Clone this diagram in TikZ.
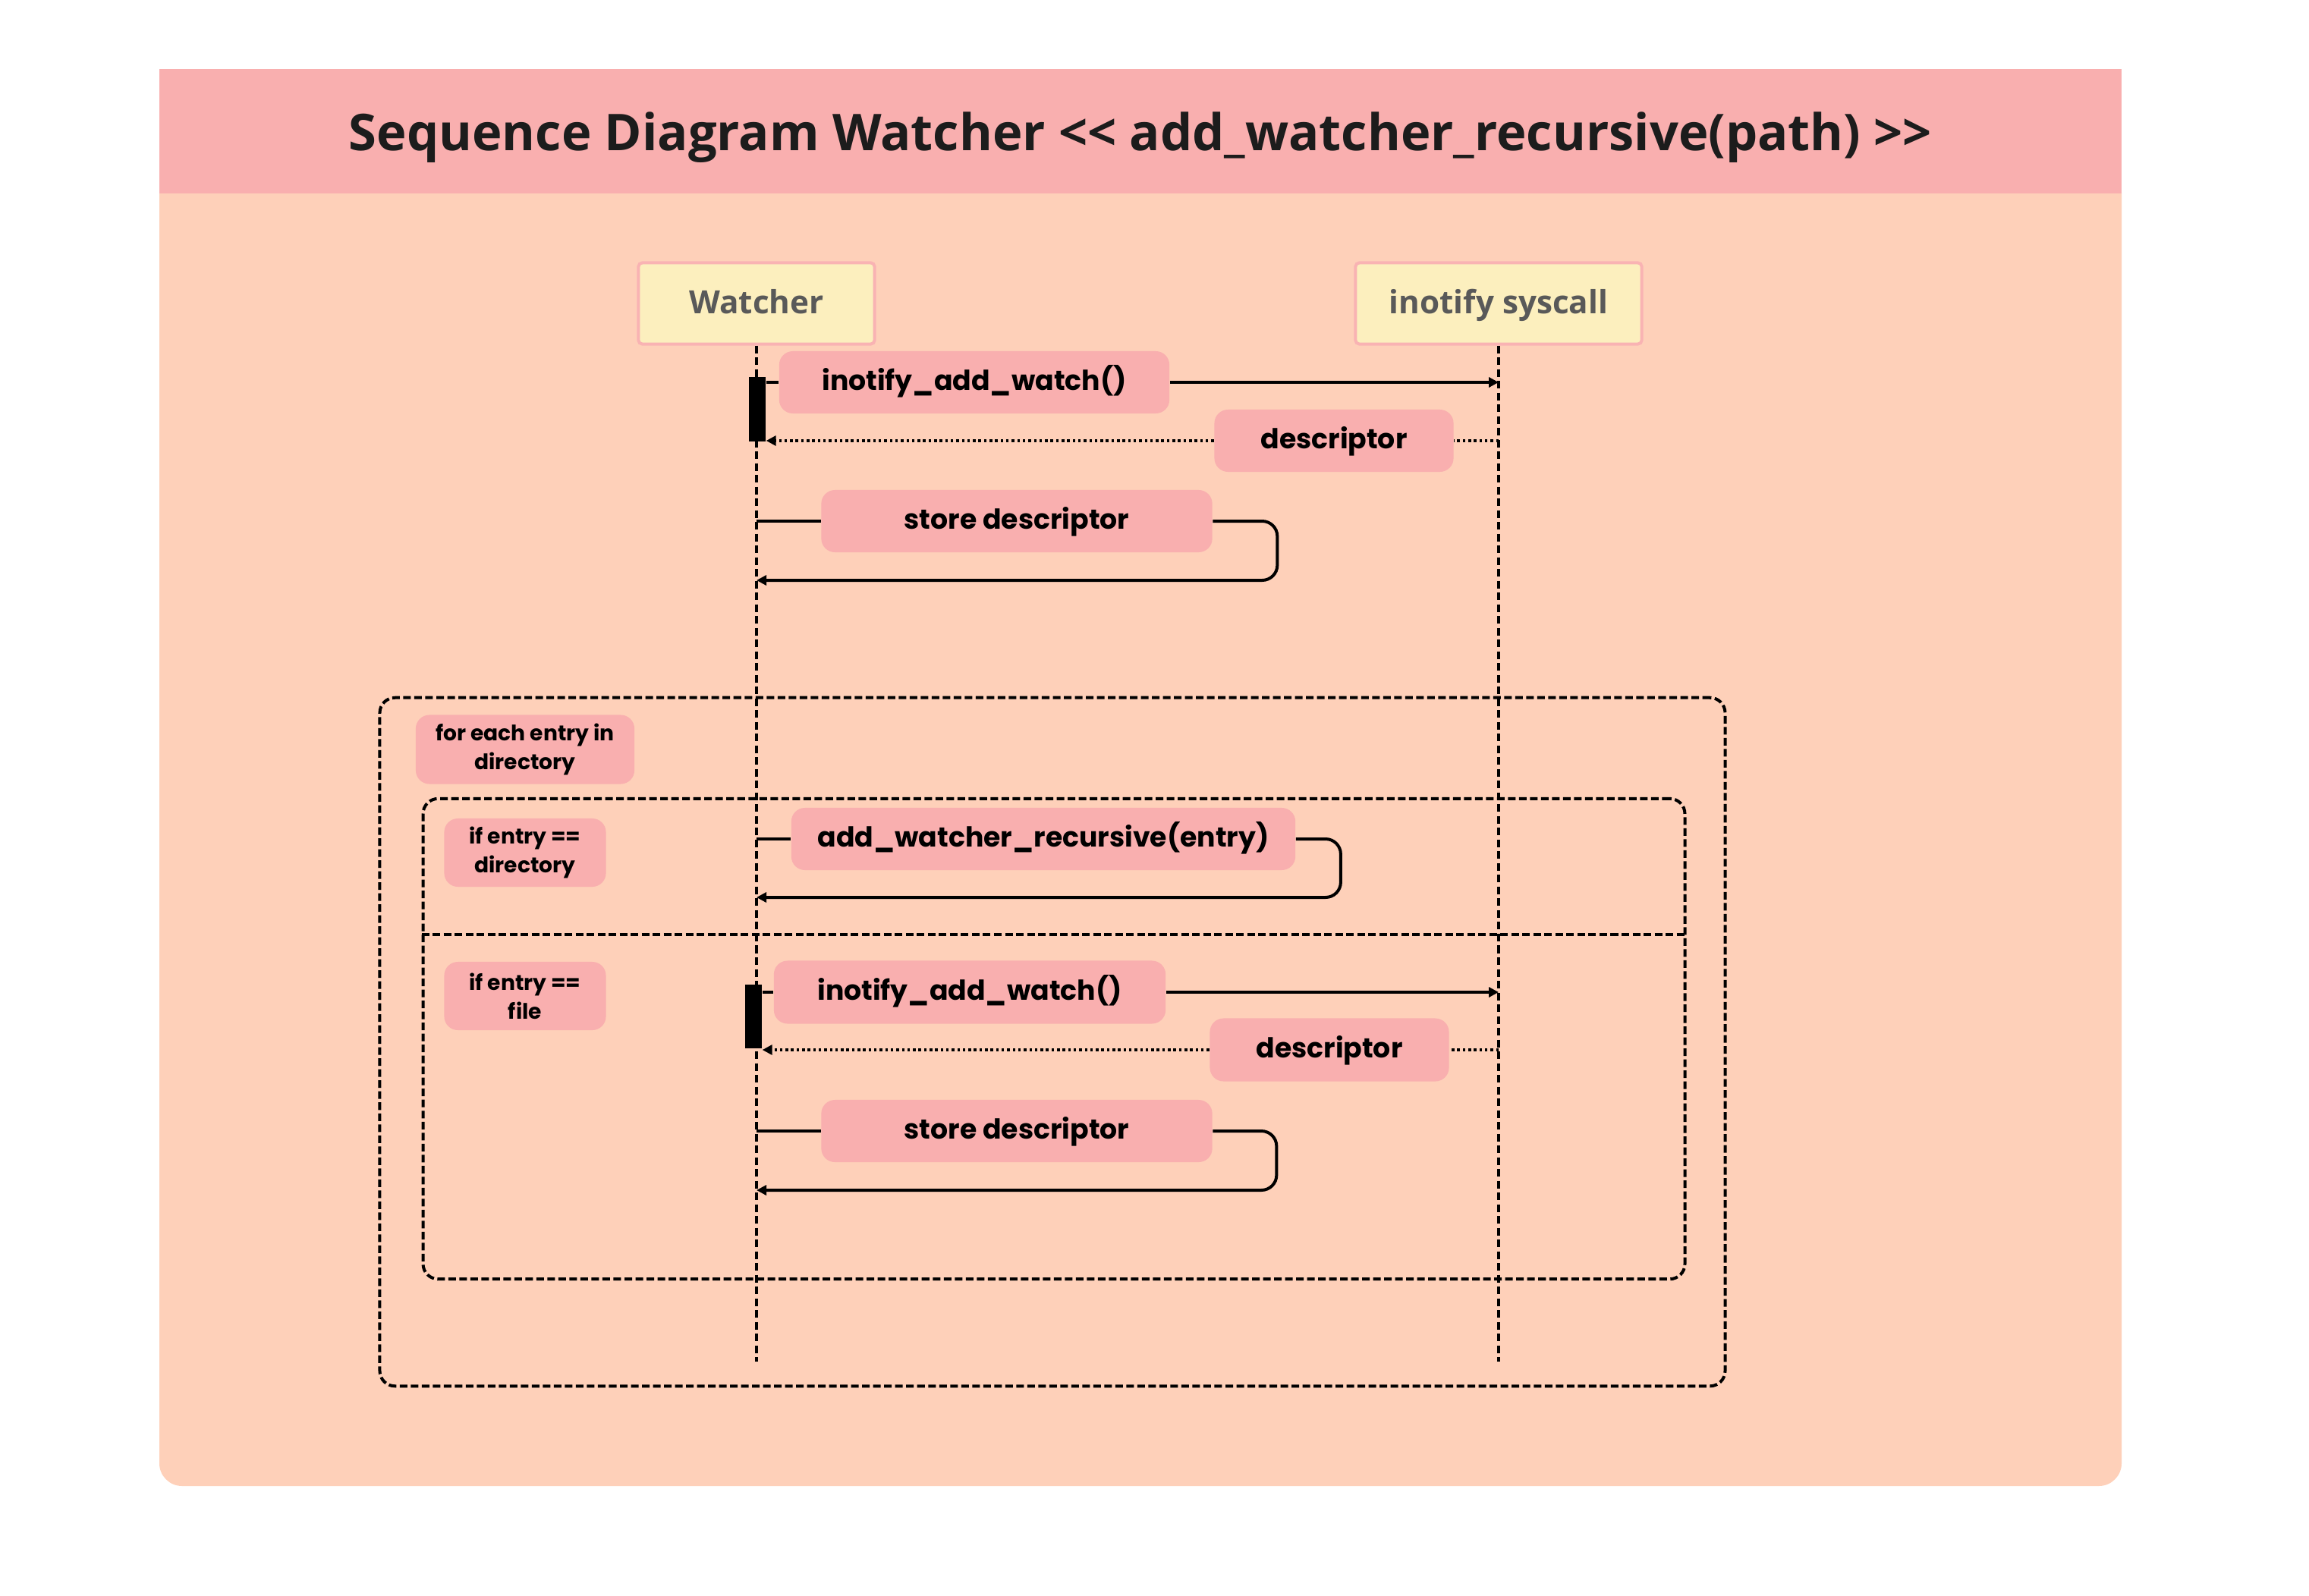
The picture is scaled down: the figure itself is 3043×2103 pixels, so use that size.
\documentclass[tikz,border=0pt]{standalone}
\usepackage{fontspec}
\setmainfont{Open Sans}
\newfontfamily\lblfont{Poppins}
\usetikzlibrary{arrows.meta,calc,positioning}
\definecolor{bandpink}{HTML}{F9AFAF}
\definecolor{bodypeach}{HTML}{FED0B9}
\definecolor{headfill}{HTML}{FCEFBE}
\definecolor{headedge}{HTML}{F9B3B3}
\definecolor{headtext}{HTML}{595959}
\definecolor{titletext}{HTML}{1C1C1C}
\tikzset{
    lifehead/.style = {
        draw = headedge,
        line width = 0.04cm,
        fill = headfill,
        rounded corners = 0.05cm,
        minimum height = 1.07cm,
        text = headtext,
        text height = 0.76em,
        text depth = 0pt,
        font = \bfseries\fontsize{12}{14}\selectfont,
        },
    lifeline/.style = {
        line width = 0.04cm,
        dash pattern = on 0.10cm off 0.055cm,
        },
    actbar/.style = {
        fill = black,
        inner sep = 0pt,
        minimum width = 0.22cm,
        },
    msg/.style = {
        fill = bandpink,
        rounded corners = 0.18cm,
        minimum height = 0.82cm,
        inner sep = 0pt,
        text height = 0.8em,
        text depth = 0.2em,
        font = \lblfont\bfseries\fontsize{10.3}{12}\selectfont,
        },
    guard/.style = {
        msg,
        align = center,
        text height = ,
        text depth = ,
        minimum height = 0.9cm,
        font = \lblfont\bfseries\fontsize{8}{10.8}\selectfont,
        },
    call/.style = {
        line width = 0.04cm,
        },
    reply/.style = {
        line width = 0.035cm,
        dash pattern = on 0.035cm off 0.038cm,
        },
    fragment/.style = {
        draw,
        line width = 0.04cm,
        dash pattern = on 0.10cm off 0.045cm,
        rounded corners = 0.2cm,
        inner sep = 0pt,
        },
}

\begin{document}
\begin{tikzpicture}[
            x = 0.01cm, y = -0.01cm,
            tip/.style = {-{Triangle[length=0.13cm, width=0.13cm]}},
            ]
            \useasboundingbox (0,0) rectangle (3043,2103);
            \fill[white] (0,0) rectangle (3043,2103);

            % panel
            \fill[bodypeach, rounded corners=0.3cm] (210,225) rectangle (2796,1959);
            \fill[bandpink] (210,91) rectangle (2796,255);
            \node[text=titletext, font=\bfseries\fontsize{19}{22}\selectfont] (title) at (1503,181)
                {Sequence Diagram Watcher <\kern0pt< add\_watcher\_recursive(path) >\kern0pt>};

            % fragments
            \node[fragment, minimum width=17.72cm, minimum height=9.07cm] (loopframe) at (1387,1373.5) {};
            \node[fragment, minimum width=16.62cm, minimum height=6.33cm] (altframe) at (1389,1369.5) {};
            \draw[fragment] (altframe.west |- 0,1232) -- (altframe.east |- 0,1232);
            \node[guard, minimum width=2.88cm, minimum height=0.91cm] (loopguard) at (692,988) {for each entry in\\directory};
            \node[guard, minimum width=2.13cm] (ifdir) at (692,1124) {if entry ==\\directory};
            \node[guard, minimum width=2.13cm] (iffile) at (692,1313) {if entry ==\\file};

            % lifelines
            \node[lifehead, minimum width=3.11cm] (watcher) at (997,400) {Watcher};
            \node[lifehead, minimum width=3.77cm] (syscall) at (1975,400) {inotify syscall};
            \coordinate (watcherEnd) at (watcher |- 0,1795);
            \coordinate (syscallEnd) at (syscall |- 0,1795);
            \draw[lifeline] (watcher) -- (watcherEnd);
            \draw[lifeline] (syscall) -- (syscallEnd);

            % first watch
            \node[actbar, minimum height=0.85cm] (bar1) at (998,539.5) {};
            \node[msg, minimum width=5.14cm] (call1) at (1284,504) {inotify\_add\_watch()};
            \draw[call] (bar1.east |- call1) -- (call1.west);
            \draw[call, tip] (call1.east) -- (call1 -| syscall);
            \node[msg, minimum width=3.15cm] (ret1) at (1758,581) {descriptor};
            \draw[reply] (ret1 -| syscall) -- (ret1.east);
            \draw[reply, tip] (ret1.west) -- (bar1.east |- ret1);
            \node[msg, minimum width=5.15cm] (store1) at (1340,687) {store descriptor};
            \draw[call] (watcher |- store1) -- (store1.west);
            \draw[call, tip, rounded corners=0.2cm] (store1.east) -- ++(85,0) -- ++(0,78)
                -- ($(watcher |- store1)+(0,78)$);

            % recursion
            \node[msg, minimum width=6.64cm] (recur) at (1375,1106) {add\_watcher\_recursive(entry)};
            \draw[call] (watcher |- recur) -- (recur.west);
            \draw[call, tip, rounded corners=0.2cm] (recur.east) -- ++(59,0) -- ++(0,77)
                -- ($(watcher |- recur)+(0,77)$);

            % file watch
            \node[actbar, minimum height=0.84cm] (bar2) at (993,1340) {};
            \node[msg, minimum width=5.16cm, minimum height=0.83cm] (call2) at (1278,1308) {inotify\_add\_watch()};
            \draw[call] (bar2.east |- call2) -- (call2.west);
            \draw[call, tip] (call2.east) -- (call2 -| syscall);
            \node[msg, minimum width=3.15cm, minimum height=0.83cm] (ret2) at (1752,1384) {descriptor};
            \draw[reply] (ret2 -| syscall) -- (ret2.east);
            \draw[reply, tip] (ret2.west) -- (bar2.east |- ret2);
            \node[msg, minimum width=5.15cm] (store2) at (1340,1491) {store descriptor};
            \draw[call] (watcher |- store2) -- (store2.west);
            \draw[call, tip, rounded corners=0.2cm] (store2.east) -- ++(84,0) -- ++(0,78)
                -- ($(watcher |- store2)+(0,78)$);
\end{tikzpicture}
\end{document}
